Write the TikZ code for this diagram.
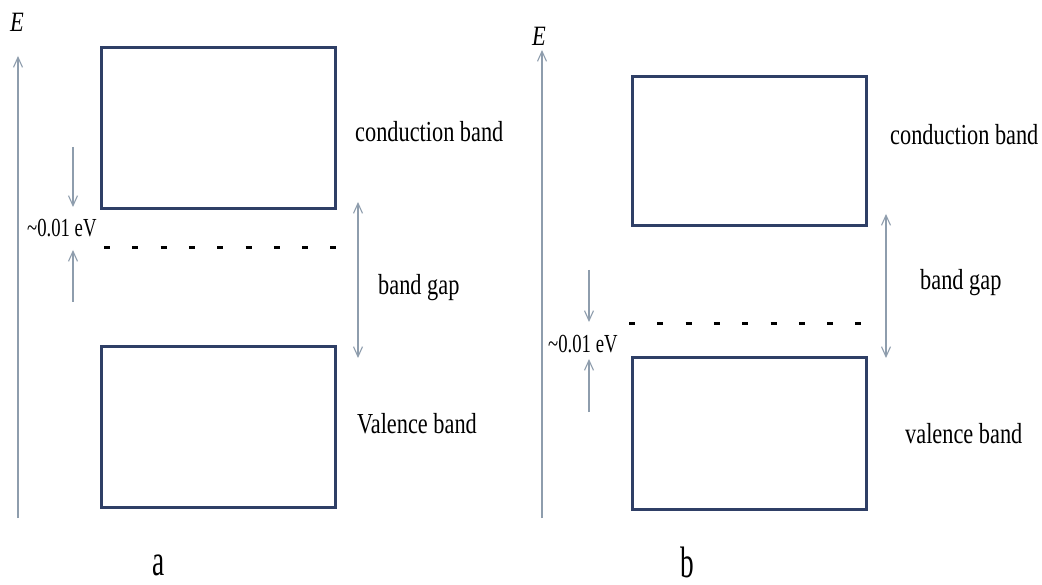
\documentclass[tikz,border=0pt]{standalone}
\usepackage{fontspec}
\setmainfont{Liberation Serif}
\newfontfamily\lblfont[FakeStretch=0.77]{Liberation Serif}
\newfontfamily\evfont[FakeStretch=0.72]{Liberation Serif}
\newfontfamily\panelfont[FakeStretch=0.62]{Liberation Serif}
\newfontfamily\axisfont[FakeStretch=0.8,ItalicFont={Liberation Serif Italic}]{Liberation Serif}
\usetikzlibrary{arrows.meta}
\definecolor{bandedge}{HTML}{2F3F66}
\definecolor{guide}{HTML}{8E9DAD}
\tikzset{
  x=1pt, y=-1pt,
  bandbox/.style={draw=bandedge, line width=3pt, minimum width=234pt, inner sep=0pt},
  levelline/.style={line width=3pt, dash pattern=on 6pt off 22.3pt},
  guidearrow/.style={draw=guide, line width=1.1pt, -{Straight Barb[length=10pt,width=9pt]}},
  gaparrow/.style={draw=guide, line width=1.1pt, {Straight Barb[length=10pt,width=9pt]}-{Straight Barb[length=10pt,width=9pt]}},
  lbl/.style={inner sep=0pt, anchor=base west, font=\lblfont\fontsize{29}{29}\selectfont},
  evlbl/.style={inner sep=0pt, anchor=base west, font=\evfont\fontsize{26}{26}\selectfont},
  panel/.style={inner sep=0pt, anchor=base west, font=\panelfont\fontsize{44}{44}\selectfont},
  axislbl/.style={inner sep=0pt, anchor=base west, font=\axisfont\fontsize{28}{28}\selectfont\itshape},
}
\begin{document}
\begin{tikzpicture}
\useasboundingbox[fill=white] (0,0) rectangle (1042,585);

% ---------- panel a ----------
\node[axislbl] (Ea) at (10,32) {E};
\coordinate (axa0) at (18,518);
\coordinate (axa1) at (18,56);
\draw[guidearrow] (axa0) -- (axa1);

\node[bandbox, minimum height=161pt] (cba) at (218,128.5) {};
\node[bandbox, minimum height=160pt] (vba) at (218,427) {};

\coordinate (lva0) at (104,248);
\coordinate (lva1) at (337,248);
\draw[levelline] (lva0) -- (lva1);

\coordinate (da0) at (73,147);
\coordinate (da1) at (73,207);
\coordinate (ua0) at (73,302);
\coordinate (ua1) at (73,250);
\draw[guidearrow] (da0) -- (da1);
\draw[guidearrow] (ua0) -- (ua1);
\node[evlbl] (eva) at (27,237) {\char`\~0.01 eV};

\coordinate (ga0) at (358,202);
\coordinate (ga1) at (358,358);
\draw[gaparrow] (ga0) -- (ga1);

\node[lbl] (tcba) at (355,142) {conduction band};
\node[lbl] (tgapa) at (378,295) {band gap};
\node[lbl] (tvba) at (357,433) {Valence band};
\node[panel] (pa) at (152,575) {a};

% ---------- panel b ----------
\node[axislbl] (Eb) at (532,46) {E};
\coordinate (axb0) at (542,518);
\coordinate (axb1) at (542,50);
\draw[guidearrow] (axb0) -- (axb1);

\node[bandbox, minimum height=149pt] (cbb) at (749,151.5) {};
\node[bandbox, minimum height=151pt] (vbb) at (749,433.5) {};

\coordinate (lvb0) at (629,324);
\coordinate (lvb1) at (862,324);
\draw[levelline] (lvb0) -- (lvb1);

\coordinate (db0) at (589,270);
\coordinate (db1) at (589,322);
\coordinate (ub0) at (589,412);
\coordinate (ub1) at (589,359);
\draw[guidearrow] (db0) -- (db1);
\draw[guidearrow] (ub0) -- (ub1);
\node[evlbl] (evb) at (548,353) {\char`\~0.01 eV};

\coordinate (gb0) at (886,214);
\coordinate (gb1) at (886,358);
\draw[gaparrow] (gb0) -- (gb1);

\node[lbl] (tcbb) at (890,145) {conduction band};
\node[lbl] (tgapb) at (920,290) {band gap};
\node[lbl] (tvbb) at (905,443) {valence band};
\node[panel] (pb) at (680,577) {b};
\end{tikzpicture}
\end{document}
